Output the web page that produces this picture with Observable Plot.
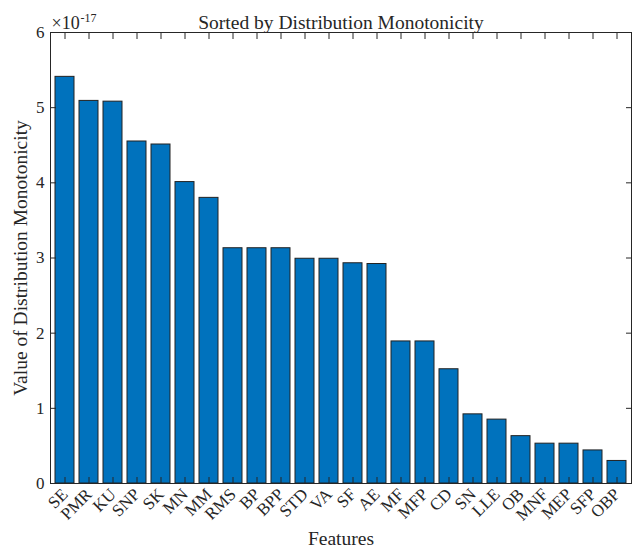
<!DOCTYPE html>
<html>
<head>
<meta charset="utf-8">
<script src="https://cdn.jsdelivr.net/npm/d3@7"></script>
<script src="https://cdn.jsdelivr.net/npm/@observablehq/plot@0.6"></script>
<style>
  html, body { margin: 0; padding: 0; background: #fff; }
</style>
</head>
<body>
<div id="chart"></div>
<script>
const features = ["SE","PMR","KU","SNP","SK","MN","MM","RMS","BP","BPP","STD","VA","SF","AE","MF","MFP","CD","SN","LLE","OB","MNF","MEP","SFP","OBP"];
// values in units of 1e-17
const values = [5.41,5.09,5.08,4.55,4.51,4.01,3.80,3.13,3.13,3.13,2.99,2.99,2.93,2.92,1.89,1.89,1.52,0.92,0.85,0.63,0.53,0.53,0.44,0.30];
const yTicks = [0,1,2,3,4,5,6];
const titleText = "Sorted by Distribution Monotonicity";
const xLabel = "Features";
const yLabel = "Value of Distribution Monotonicity";
const exponentBase = "×10";
const exponentPower = "-17";

const data = features.map((f, i) => ({feature: f, value: values[i]}));

const font = "Liberation Serif, Times New Roman, serif";
const ink = "#262626";

const chart = Plot.plot({
  width: 634,
  height: 551,
  marginTop: 32,
  marginLeft: 50,
  marginRight: 3,
  marginBottom: 68,
  style: {fontFamily: font, fontSize: "17px", color: ink, background: "#fff"},
  x: {domain: features, paddingInner: 0.2, paddingOuter: 0.1},
  y: {domain: [0, 6]},
  marks: [
    Plot.barY(data, {x: "feature", y: "value", fill: "#0072BD", stroke: "#222", strokeWidth: 1}),
    Plot.frame({stroke: ink, strokeWidth: 1}),
    Plot.axisX({anchor: "bottom", tickSize: -6, tickPadding: 14, tickRotate: -45, stroke: ink, fill: ink,
      label: xLabel, labelAnchor: "center", labelArrow: "none", labelOffset: 61, fontSize: 17}),
    Plot.axisX({anchor: "top", tickSize: -6, tickFormat: () => "", label: null, stroke: ink}),
    Plot.axisY({anchor: "left", ticks: yTicks, tickFormat: d3.format("d"), tickSize: -6, tickPadding: 12, stroke: ink, fill: ink,
      label: yLabel, labelAnchor: "center", labelArrow: "none", labelOffset: 37, fontSize: 17}),
    Plot.axisY({anchor: "right", ticks: yTicks, tickSize: -6, tickFormat: () => "", label: null, stroke: ink}),
    Plot.text([titleText], {frameAnchor: "top", lineAnchor: "bottom", dy: -4, fontSize: 19.5, fill: ink}),
    Plot.text([exponentBase], {frameAnchor: "top-left", textAnchor: "start", lineAnchor: "bottom", dx: 1, dy: -4, fontSize: 18, fill: ink}),
    Plot.text([exponentPower], {frameAnchor: "top-left", textAnchor: "start", lineAnchor: "bottom", dx: 30, dy: -11, fontSize: 12, fill: ink})
  ]
});

// enlarge axis label fonts (title-like size)
d3.select(chart).selectAll("g[aria-label='x-axis label'] text, g[aria-label='y-axis label'] text").attr("font-size", 19.5);

document.getElementById("chart").appendChild(chart);
</script>
</body>
</html>
